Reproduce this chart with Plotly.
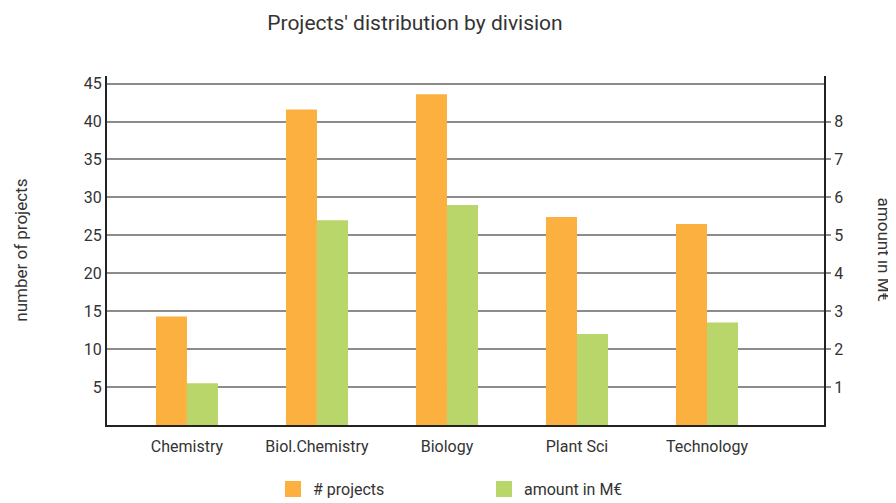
import plotly.graph_objects as go

divisions = ["Chemistry", "Biol.Chemistry", "Biology", "Plant Sci", "Technology"]
projects = [14.3, 41.6, 43.6, 27.4, 26.5]
amount_meur = [1.1, 5.4, 5.8, 2.4, 2.7]
left_ticks = [5, 10, 15, 20, 25, 30, 35, 40, 45]
right_ticks = [1, 2, 3, 4, 5, 6, 7, 8]

ORANGE = "#FBB040"
GREEN = "#B8D66A"
TXT = "#333333"
GRID = "#8c8c8c"
AXIS = "#222222"
FONT = "Roboto"

fig = go.Figure()
fig.add_trace(go.Bar(x=divisions, y=projects, name="# projects", marker=dict(color=ORANGE, line=dict(width=0)),
                     offsetgroup="p", yaxis="y", showlegend=False))
fig.add_trace(go.Bar(x=divisions, y=amount_meur, name="amount in M€", marker=dict(color=GREEN, line=dict(width=0)),
                     offsetgroup="a", yaxis="y2", showlegend=False))
# legend entries with larger square swatches
fig.add_trace(go.Scatter(x=[None], y=[None], mode="markers", name="# projects",
                         marker=dict(symbol="square", size=19, color=ORANGE)))
fig.add_trace(go.Scatter(x=[None], y=[None], mode="markers", name="amount in M€",
                         marker=dict(symbol="square", size=19, color=GREEN)))

# page body has an 8px margin, so the figure is sized to the remaining viewport
fig.update_layout(
    width=888, height=495,
    margin=dict(l=99, r=72, t=68, b=78, autoexpand=False),
    paper_bgcolor="white", plot_bgcolor="white",
    font=dict(family=FONT, color=TXT, size=16),
    title=dict(text="Projects' distribution by division", x=0.4583, xanchor="center", y=0.9697, yanchor="middle",
               font=dict(size=21, color=TXT, family=FONT)),
    barmode="group", bargap=0.523, bargroupgap=0,
    xaxis=dict(type="category", range=[-0.615, 4.9], showline=True, linecolor=AXIS, linewidth=2,
               ticks="", showgrid=False, tickfont=dict(size=16, color=TXT), fixedrange=True, automargin=False,
               ticklabelstandoff=6),
    yaxis=dict(range=[0, 46], tickvals=left_ticks, showgrid=True, gridcolor=GRID, gridwidth=1.5,
               showline=True, linecolor=AXIS, linewidth=2, zeroline=False, ticks="", automargin=False,
               tickfont=dict(size=16, color=TXT)),
    yaxis2=dict(range=[0, 9.2], tickvals=right_ticks, overlaying="y", side="right", showgrid=False,
                showline=True, linecolor=AXIS, linewidth=2, zeroline=False, ticks="outside", ticklen=5,
                tickcolor=GRID, tickwidth=1.5, tickfont=dict(size=16, color=TXT), automargin=False),
    legend=dict(orientation="h", x=0.2315, xanchor="left", y=-0.135, yanchor="top",
                entrywidth=166, font=dict(size=16, color=TXT), itemsizing="trace"),
    annotations=[
        dict(text="number of projects", xref="paper", yref="paper", x=-0.121, y=0.5, showarrow=False,
             textangle=-90, font=dict(size=17, color=TXT), xanchor="center", yanchor="middle"),
        dict(text="amount in M€", xref="paper", yref="paper", x=1.085, y=0.5, showarrow=False,
             textangle=90, font=dict(size=17, color=TXT), xanchor="center", yanchor="middle"),
    ],
)

fig.write_html("out.html")
